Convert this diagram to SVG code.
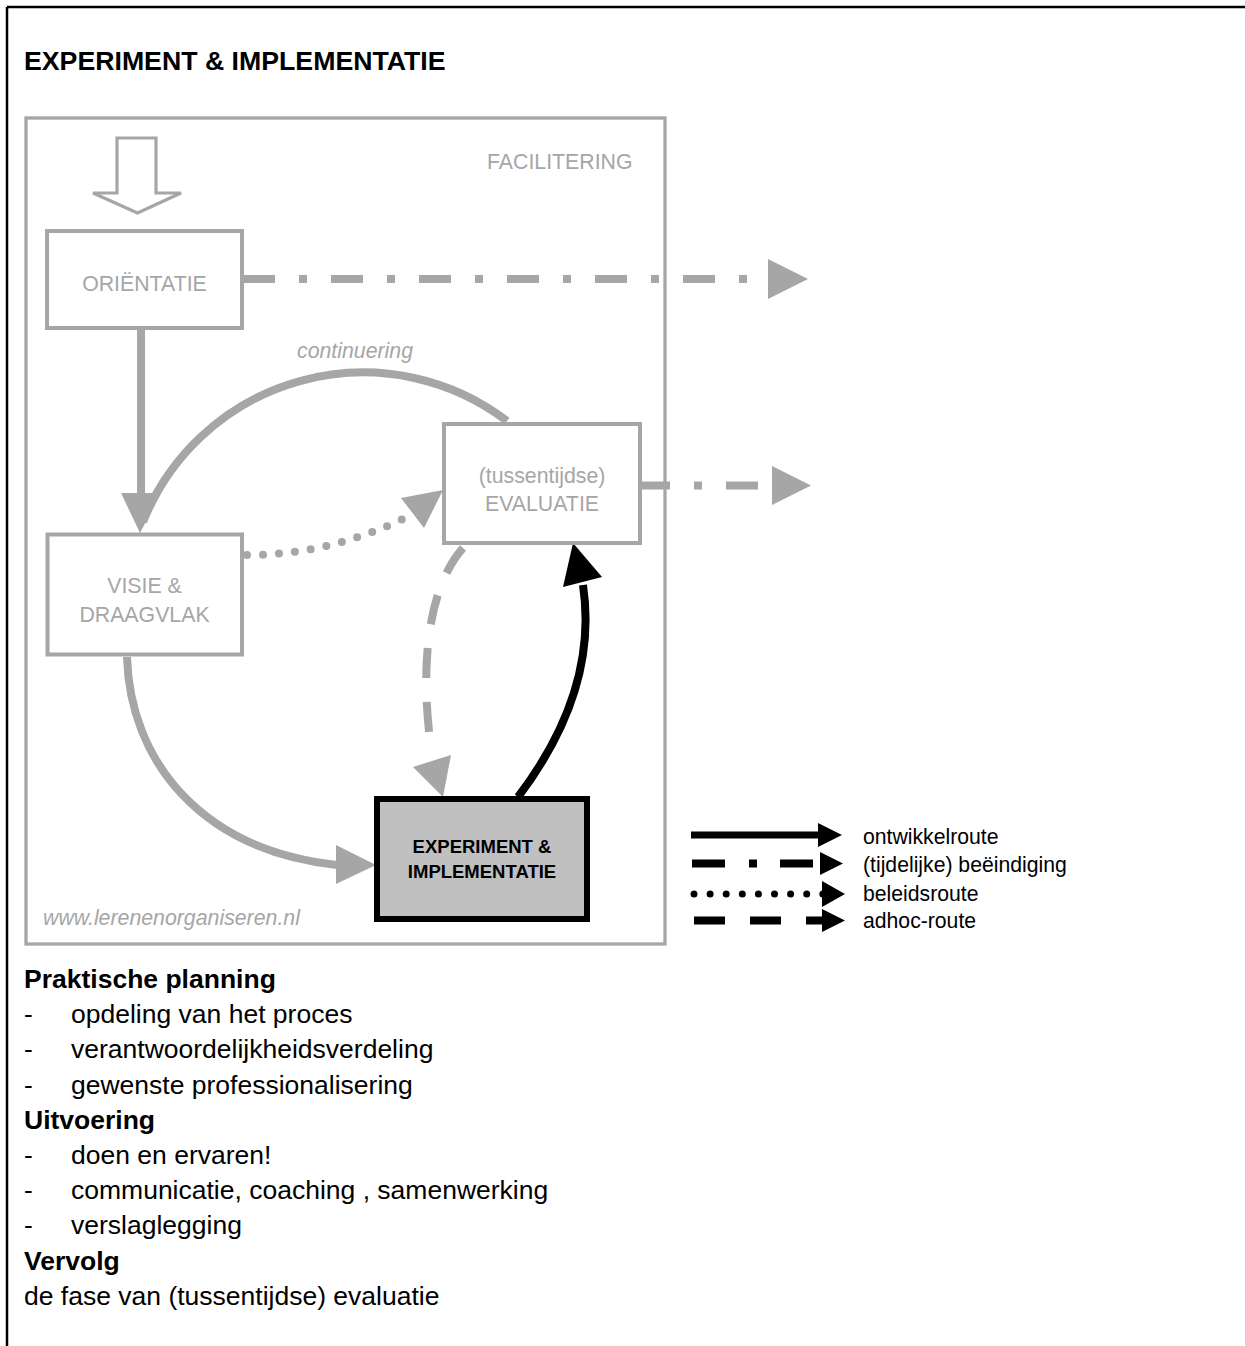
<svg xmlns="http://www.w3.org/2000/svg" width="1245" height="1346" viewBox="0 0 1245 1346">
<style>
.t{font-family:"Liberation Sans",Arial,sans-serif}
.gt{font-family:"Liberation Sans",Arial,sans-serif;fill:#a6a6a6;font-size:21.3px}
.bt{font-family:"Liberation Sans",Arial,sans-serif;fill:#000;font-size:26.5px}
.lt{font-family:"Liberation Sans",Arial,sans-serif;fill:#000;font-size:21.2px}
.box{fill:#fff;stroke:#a6a6a6;stroke-width:4}
.con{fill:none;stroke:#a6a6a6;stroke-width:8}
.hd{fill:#a6a6a6}
.k{fill:#000}
</style>
<rect width="1245" height="1346" fill="#fff"/>
<g id="page-frame" stroke="#000" stroke-width="2.5" fill="none">
  <line x1="7" y1="7" x2="1245" y2="7"/>
  <line x1="7" y1="7" x2="7" y2="1346"/>
</g>
<text id="title" class="t" x="24" y="70" font-size="26.7" font-weight="bold">EXPERIMENT &amp; IMPLEMENTATIE</text>

<g id="facilitering">
  <rect x="26" y="118" width="639" height="826" fill="none" stroke="#a6a6a6" stroke-width="3.3"/>
  <text class="gt" x="487" y="169">FACILITERING</text>
  <text class="gt" x="43" y="925" font-size="24" font-style="italic">www.lerenenorganiseren.nl</text>
</g>

<g id="connectors">
  <polygon points="117,138 156,138 156,193 181,193 137.5,213 93,193 117,193" fill="#fff" stroke="#a6a6a6" stroke-width="3.2"/>
  <line class="con" x1="243" y1="279" x2="748" y2="279" stroke-dasharray="32 24 8 24"/>
  <polygon class="hd" points="768,259 808,279 768,299"/>
  <line class="con" x1="638" y1="485.5" x2="758" y2="485.5" stroke-dasharray="32 24 8 24"/>
  <polygon class="hd" points="772,466 811,485.5 772,505"/>
  <path class="con" d="M507,421 A237,237 0 0 0 143,522" stroke-width="7.5"/>
  <text class="gt" x="297" y="358" font-style="italic">continuering</text>
  <line class="con" x1="141" y1="328" x2="141" y2="496"/>
  <polygon class="hd" points="121,493 161,493 140,533"/>
  <path class="con" d="M247,555 Q327,555 403,519" stroke-width="7" stroke-linecap="round" stroke-dasharray="0 16"/>
  <polygon class="hd" points="401,498 443,490 424,528"/>
  <path class="con" d="M127,657 C130,760 200,850 337,865"/>
  <polygon class="hd" points="336,845 336,884 376,865"/>
  <path class="con" d="M463,548 C430,585 418,660 432,755" stroke-width="7.5" stroke-dasharray="30 24"/>
  <polygon class="hd" points="413,767 451,755 443,797"/>
  <path d="M518,797 C565,735 595,665 583,585" fill="none" stroke="#000" stroke-width="8"/>
  <polygon class="k" points="563,587 602,577 573,543"/>
</g>

<g id="node-orientatie">
  <rect class="box" x="47" y="231" width="195" height="97"/>
  <text class="gt" x="144.5" y="291" text-anchor="middle">ORIËNTATIE</text>
</g>
<g id="node-visie">
  <rect class="box" x="47.5" y="534.5" width="194.5" height="120"/>
  <text class="gt" x="144.5" y="593" text-anchor="middle">VISIE &amp;</text>
  <text class="gt" x="144.5" y="622" text-anchor="middle">DRAAGVLAK</text>
</g>
<g id="node-evaluatie">
  <rect class="box" x="444" y="424" width="196" height="119"/>
  <text class="gt" x="542" y="483" text-anchor="middle">(tussentijdse)</text>
  <text class="gt" x="542" y="511" text-anchor="middle">EVALUATIE</text>
</g>
<g id="node-experiment">
  <rect x="377" y="799" width="210" height="120" fill="#c0c0c0" stroke="#000" stroke-width="6"/>
  <text class="t" x="482" y="853" font-size="18.5" font-weight="bold" text-anchor="middle">EXPERIMENT &amp;</text>
  <text class="t" x="482" y="878" font-size="18.5" font-weight="bold" text-anchor="middle">IMPLEMENTATIE</text>
</g>

<g id="legend">
  <line x1="691" y1="835" x2="819" y2="835" stroke="#000" stroke-width="7"/>
  <polygon class="k" points="818,823 842,835 818,847"/>
  <text class="lt" x="863" y="844">ontwikkelroute</text>
  <line x1="692" y1="863.5" x2="813" y2="863.5" stroke="#000" stroke-width="8" stroke-dasharray="33 24 8 23"/>
  <polygon class="k" points="820,852 843,863.5 820,875"/>
  <text class="lt" x="863" y="872">(tijdelijke) beëindiging</text>
  <line x1="694" y1="894" x2="823" y2="894" stroke="#000" stroke-width="7" stroke-linecap="round" stroke-dasharray="0 16.1"/>
  <polygon class="k" points="822,881 845,894 822,907"/>
  <text class="lt" x="863" y="901">beleidsroute</text>
  <line x1="694" y1="920.5" x2="823" y2="920.5" stroke="#000" stroke-width="8" stroke-dasharray="31 25"/>
  <polygon class="k" points="822,909 845,920.5 822,932"/>
  <text class="lt" x="863" y="928">adhoc-route</text>
</g>

<g id="notes">
  <text class="bt" x="24" y="988" font-weight="bold">Praktische planning</text>
  <text class="bt" x="24" y="1023.2">-</text><text class="bt" x="71" y="1023.2">opdeling van het proces</text>
  <text class="bt" x="24" y="1058.4">-</text><text class="bt" x="71" y="1058.4">verantwoordelijkheidsverdeling</text>
  <text class="bt" x="24" y="1093.6">-</text><text class="bt" x="71" y="1093.6">gewenste professionalisering</text>
  <text class="bt" x="24" y="1128.8" font-weight="bold">Uitvoering</text>
  <text class="bt" x="24" y="1164">-</text><text class="bt" x="71" y="1164">doen en ervaren!</text>
  <text class="bt" x="24" y="1199.2">-</text><text class="bt" x="71" y="1199.2">communicatie, coaching , samenwerking</text>
  <text class="bt" x="24" y="1234.4">-</text><text class="bt" x="71" y="1234.4">verslaglegging</text>
  <text class="bt" x="24" y="1269.6" font-weight="bold">Vervolg</text>
  <text class="bt" x="24" y="1304.8">de fase van (tussentijdse) evaluatie</text>
</g>
</svg>
